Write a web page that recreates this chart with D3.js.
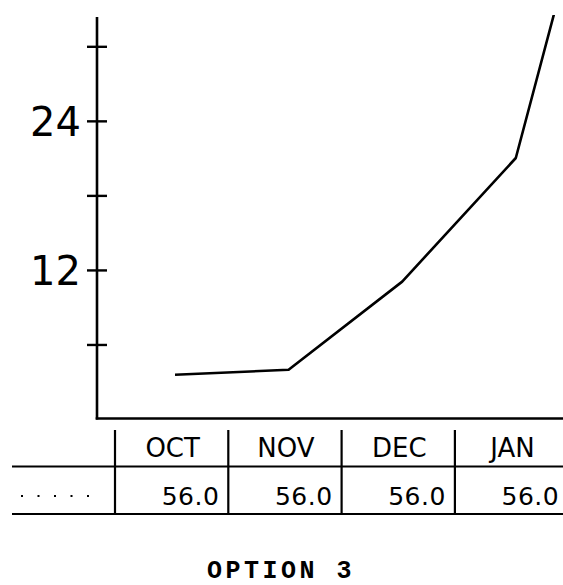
<!DOCTYPE html>
<html>
<head>
<meta charset="utf-8">
<script src="https://cdn.jsdelivr.net/npm/d3@7"></script>
<style>
  html, body { margin: 0; padding: 0; background: #fff; }
  svg { display: block; }
</style>
</head>
<body>
<svg id="chart" width="563" height="585"></svg>
<script>
// ---- data ----
const months = ["OCT", "NOV", "DEC", "JAN", "FEB"];
const visibleMonths = ["OCT", "NOV", "DEC", "JAN"];
const actualValues = [3.6, 4.0, 11.1, 21.05, 55.5];
const targetValues = [56.0, 56.0, 56.0, 56.0];
const yTicks = [6, 12, 18, 24, 30];
const yTickLabels = [12, 24];
const title = "OPTION 3";

// ---- layout ----
const W = 563, H = 585;
const svg = d3.select("#chart");
const ink = "#000";

const y = d3.scaleLinear().domain([0, 32.4]).range([419.5, 17]);
const axisX = 97;

// table column scale
const colW = 113.3;
const xBand = d3.scaleBand().domain(months).range([115, 115 + colW * months.length]).padding(0);
// line point scale
const xPt = d3.scalePoint().domain(months).range([175, 175 + 113.6 * (months.length - 1)]);

// clip for plot area
svg.append("defs").append("clipPath").attr("id", "plotclip")
  .append("rect").attr("x", axisX).attr("y", y.range()[1] - 2)
  .attr("width", W - axisX).attr("height", y(0) - y.range()[1] + 2);

// y axis line
svg.append("line")
  .attr("x1", axisX).attr("x2", axisX)
  .attr("y1", y.range()[1]).attr("y2", y(0))
  .attr("stroke", ink).attr("stroke-width", 2.6);
// x axis line
svg.append("line")
  .attr("x1", axisX - 1.3).attr("x2", W)
  .attr("y1", y(0) - 1).attr("y2", y(0) - 1)
  .attr("stroke", ink).attr("stroke-width", 2.4);

// ticks (cross both sides)
svg.selectAll(".ytick").data(yTicks).join("line")
  .attr("x1", axisX - 10).attr("x2", axisX + 10)
  .attr("y1", d => y(d)).attr("y2", d => y(d))
  .attr("stroke", ink).attr("stroke-width", 2.4);

// tick labels
svg.selectAll(".ylab").data(yTickLabels).join("text")
  .attr("x", axisX - 16).attr("y", d => y(d))
  .attr("dy", "0.36em")
  .attr("text-anchor", "end")
  .attr("font-family", "DejaVu Sans")
  .attr("font-size", 40)
  .attr("fill", ink)
  .text(d => d);

// target (dotted) series - off scale, clipped
svg.append("path")
  .datum(targetValues)
  .attr("clip-path", "url(#plotclip)")
  .attr("fill", "none").attr("stroke", ink).attr("stroke-width", 2)
  .attr("stroke-dasharray", "2,14")
  .attr("d", d3.line().x((d, i) => xPt(months[i])).y(d => y(d)));

// actual series line
svg.append("path")
  .datum(actualValues)
  .attr("clip-path", "url(#plotclip)")
  .attr("fill", "none").attr("stroke", ink).attr("stroke-width", 2.6)
  .attr("stroke-linejoin", "round")
  .attr("d", d3.line().x((d, i) => xPt(months[i])).y(d => y(d)));

// ---- table ----
const rowTop = 430, rowMid = 466.5, rowBot = 514;
// horizontal lines
[rowMid, rowBot].forEach(yy => {
  svg.append("line").attr("x1", 12).attr("x2", W)
    .attr("y1", yy).attr("y2", yy)
    .attr("stroke", ink).attr("stroke-width", 2);
});
// vertical column separators
svg.selectAll(".vsep").data(months).join("line")
  .attr("x1", d => xBand(d)).attr("x2", d => xBand(d))
  .attr("y1", rowTop).attr("y2", rowBot)
  .attr("stroke", ink).attr("stroke-width", 2.2);

// header labels
svg.selectAll(".hdr").data(visibleMonths).join("text")
  .attr("x", d => xBand(d) + xBand.bandwidth() / 2 + 1)
  .attr("y", 457)
  .attr("text-anchor", "middle")
  .attr("font-family", "DejaVu Sans")
  .attr("font-size", 26)
  .attr("fill", ink)
  .text(d => d);

// value cells
svg.selectAll(".val").data(targetValues).join("text")
  .attr("x", (d, i) => xBand(visibleMonths[i]) + xBand.bandwidth() - 9)
  .attr("y", 505)
  .attr("text-anchor", "end")
  .attr("font-family", "DejaVu Sans")
  .attr("font-size", 25)
  .attr("letter-spacing", 0.5)
  .attr("fill", ink)
  .text(d => d.toFixed(1));

// legend symbol for dotted series
svg.append("line")
  .attr("x1", 21).attr("x2", 92)
  .attr("y1", 496).attr("y2", 496)
  .attr("stroke", ink).attr("stroke-width", 2)
  .attr("stroke-dasharray", "2,14.5");

// title
svg.append("text")
  .attr("x", 281).attr("y", 578)
  .attr("text-anchor", "middle")
  .attr("font-family", "Liberation Mono")
  .attr("font-weight", "bold")
  .attr("font-size", 25)
  .attr("letter-spacing", 3.5)
  .attr("fill", ink)
  .text(title);
</script>
</body>
</html>
